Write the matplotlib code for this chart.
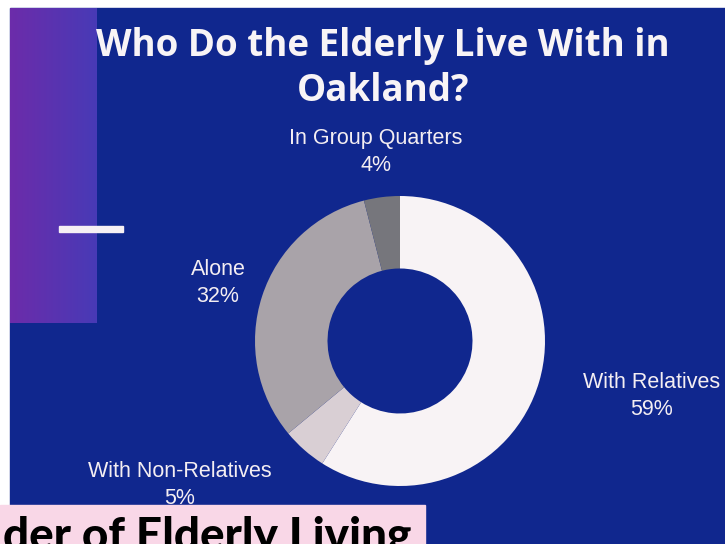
import numpy as np
import matplotlib.pyplot as plt
from matplotlib.patches import Rectangle

# living arrangements of the elderly, clockwise from the top
labels = ['With Relatives', 'With Non-Relatives', 'Alone', 'In Group Quarters']
shares = [59, 5, 32, 4]
colors = ['#f8f3f5', '#d9cfd4', '#a9a3a9', '#76767c']

W, H = 725, 544
fig = plt.figure(figsize=(W / 100, H / 100), dpi=100)
fig.patch.set_facecolor('white')

# full-figure axes in pixel units for background, title and labels
bg = fig.add_axes([0, 0, 1, 1])
bg.set_xlim(0, W)
bg.set_ylim(H, 0)
bg.axis('off')

bg.add_patch(Rectangle((10, 8), W - 10, H - 8, color='#10278e', zorder=0))

# purple gradient panel on the left
grad = np.linspace(0, 1, 64)
c0 = np.array([108, 44, 170]) / 255
c1 = np.array([72, 58, 182]) / 255
img = (c0[None, :] * (1 - grad[:, None]) + c1[None, :] * grad[:, None])[None, :, :]
bg.imshow(img, extent=(10, 97, 323, 8), aspect='auto', zorder=1)
bg.add_patch(Rectangle((59, 226), 64, 6, color='#f6f0f4', zorder=2))

title_kw = dict(color='#f8f4f6', fontsize=26.5, fontweight='bold',
                family='Open Sans', ha='center', va='center', zorder=3)
bg.text(383, 46, 'Who Do the Elderly Live With in', **title_kw)
bg.text(383, 91, 'Oakland?', **title_kw)

# slice labels
label_pos = {
    'In Group Quarters': (376, 152),
    'Alone': (218, 283),
    'With Relatives': (652, 396),
    'With Non-Relatives': (180, 485),
}
for name, share in zip(labels, shares):
    x, y = label_pos[name]
    bg.text(x, y, f'{name}\n{share}%', color='#f4eef2', fontsize=15.5,
            family='Liberation Sans', ha='center', va='center',
            linespacing=1.35, zorder=3)

# pink caption strip at the bottom
bg.add_patch(Rectangle((0, 505), 425, 40, color='#f9d7e7', zorder=5))
bg.text(3, 550, 'der of Elderly Living', color='black', fontsize=33,
        fontweight='black', family='Lato', ha='left', va='baseline',
        zorder=6, clip_on=True)

# donut
cx, cy, r = 400, 341, 145
ax = fig.add_axes([(cx - r) / W, (H - cy - r) / H, 2 * r / W, 2 * r / H])
ax.pie(shares, colors=colors, startangle=90, counterclock=False,
       wedgeprops=dict(width=0.5, linewidth=0))
ax.set_xlim(-1, 1)
ax.set_ylim(-1, 1)
ax.set_aspect('equal')
ax.axis('off')

fig.savefig('out.png', dpi=100)
